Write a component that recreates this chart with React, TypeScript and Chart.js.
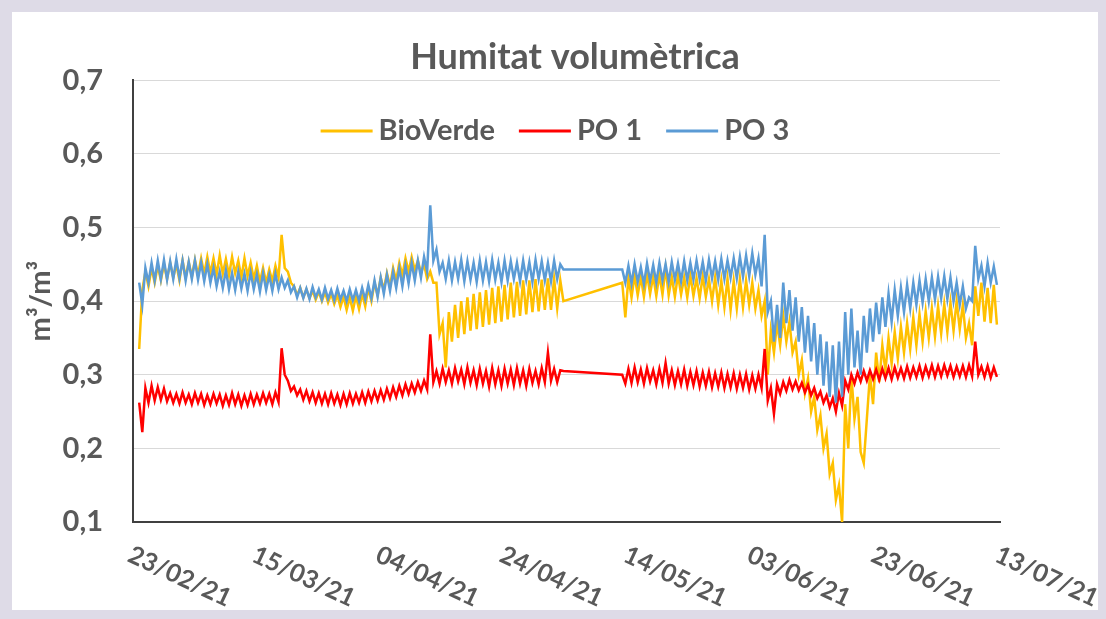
import React, { useEffect, useRef } from "react";
import { Chart, registerables } from "chart.js";

Chart.register(...registerables);

// ---------- data ----------
const chartTitle = "Humitat volumètrica";
const yAxisTitle = "m³/m³";
const seriesNames = ["BioVerde", "PO 1", "PO 3"];
const seriesColors = ["#FFC000", "#FF0000", "#5B9BD5"];

// x axis: days since 23/02/21
const xTickDays = [0, 20, 40, 60, 80, 100, 120, 140];
const xTickLabels = ["23/02/21", "15/03/21", "04/04/21", "24/04/21", "14/05/21", "03/06/21", "23/06/21", "13/07/21"];
const yTickValues = [0.1, 0.2, 0.3, 0.4, 0.5, 0.6, 0.7];
const yTickLabels = ["0,1", "0,2", "0,3", "0,4", "0,5", "0,6", "0,7"];

// readings: day 1 .. day 139, first and second half of each day (null = no data)
const firstDay = 1;

const bioVerdeA = [
  0.335, 0.44, 0.445, 0.448, 0.45, 0.452, 0.45, 0.455, 0.453, 0.456,
  0.458, 0.46, 0.458, 0.462, 0.457, 0.46, 0.455, 0.458, 0.452, 0.448,
  0.445, 0.443, 0.448, 0.49, 0.44, 0.42, 0.418, 0.416, 0.414, 0.413,
  0.412, 0.41, 0.408, 0.406, 0.405, 0.407, 0.41, 0.418, 0.425, 0.432,
  0.438, 0.445, 0.452, 0.458, 0.46, 0.455, 0.45, 0.44, 0.425, 0.37,
  0.385, 0.395, 0.4, 0.405, 0.41, 0.412, 0.415, 0.418, 0.42, 0.422,
  0.425, 0.426, 0.428, 0.428, 0.43, 0.429, 0.431, 0.43, 0.428, null,
  null, null, null, null, null, null, null, null, 0.425, 0.432,
  0.435, 0.433, 0.437, 0.434, 0.436, 0.445, 0.433, 0.436, 0.432, 0.435,
  0.431, 0.434, 0.43, 0.432, 0.428, 0.43, 0.427, 0.43, 0.428, 0.425,
  0.415, 0.4, 0.36, 0.37, 0.38, 0.372, 0.345, 0.32, 0.295, 0.27,
  0.245, 0.22, 0.18, 0.15, 0.26, 0.3, 0.27, 0.18, 0.3, 0.33,
  0.34, 0.35, 0.358, 0.365, 0.37, 0.378, 0.382, 0.386, 0.39, 0.393,
  0.396, 0.398, 0.4, 0.395, 0.37, 0.42, 0.425, 0.418, 0.422,
];
const bioVerdeB = [
  0.415, 0.42, 0.425, 0.428, 0.43, 0.432, 0.428, 0.432, 0.433, 0.435,
  0.437, 0.438, 0.436, 0.437, 0.435, 0.438, 0.432, 0.434, 0.43, 0.426,
  0.425, 0.427, 0.432, 0.445, 0.425, 0.408, 0.405, 0.404, 0.402, 0.4,
  0.398, 0.396, 0.392, 0.388, 0.387, 0.389, 0.393, 0.4, 0.408, 0.415,
  0.42, 0.428, 0.435, 0.44, 0.442, 0.438, 0.43, 0.425, 0.355, 0.31,
  0.345, 0.35, 0.355, 0.36, 0.362, 0.365, 0.368, 0.37, 0.372, 0.375,
  0.378, 0.38, 0.382, 0.385, 0.386, 0.388, 0.388, 0.39, 0.4, null,
  null, null, null, null, null, null, null, null, 0.378, 0.405,
  0.408, 0.406, 0.41, 0.407, 0.409, 0.408, 0.406, 0.409, 0.405, 0.407,
  0.404, 0.406, 0.4, 0.395, 0.392, 0.388, 0.39, 0.392, 0.395, 0.39,
  0.38, 0.3, 0.33, 0.34, 0.345, 0.33, 0.3, 0.275, 0.25, 0.225,
  0.2, 0.165, 0.13, 0.1, 0.2, 0.24, 0.195, 0.24, 0.26, 0.29,
  0.305, 0.315, 0.322, 0.33, 0.335, 0.34, 0.345, 0.35, 0.352, 0.356,
  0.358, 0.36, 0.362, 0.35, 0.34, 0.38, 0.372, 0.37, 0.368,
];

const po1A = [
  0.262, 0.282, 0.285, 0.283, 0.281, 0.275, 0.274, 0.276, 0.273, 0.275,
  0.274, 0.272, 0.274, 0.273, 0.272, 0.275, 0.273, 0.272, 0.274, 0.273,
  0.275, 0.274, 0.276, 0.336, 0.292, 0.284, 0.28, 0.278, 0.276, 0.275,
  0.274, 0.275, 0.273, 0.274, 0.275, 0.274, 0.276, 0.277, 0.278, 0.279,
  0.281, 0.283, 0.285, 0.287, 0.288, 0.29, 0.292, 0.355, 0.305, 0.308,
  0.306, 0.309, 0.307, 0.31, 0.306, 0.308, 0.305, 0.309, 0.306, 0.308,
  0.307, 0.309, 0.306, 0.308, 0.305, 0.309, 0.33, 0.308, 0.306, null,
  null, null, null, null, null, null, null, null, 0.3, 0.308,
  0.31, 0.307, 0.309, 0.306, 0.308, 0.316, 0.306, 0.305, 0.307, 0.304,
  0.305, 0.303, 0.304, 0.302, 0.303, 0.301, 0.302, 0.3, 0.301, 0.299,
  0.3, 0.335, 0.282, 0.287, 0.29, 0.293, 0.291, 0.289, 0.286, 0.282,
  0.277, 0.272, 0.268, 0.275, 0.292, 0.3, 0.303, 0.305, 0.306, 0.307,
  0.308, 0.309, 0.31, 0.309, 0.311, 0.31, 0.312, 0.311, 0.313, 0.312,
  0.313, 0.312, 0.311, 0.312, 0.313, 0.345, 0.311, 0.312, 0.31,
];
const po1B = [
  0.222, 0.262, 0.265, 0.266, 0.264, 0.262, 0.261, 0.262, 0.26, 0.262,
  0.259, 0.26, 0.261, 0.258, 0.259, 0.26, 0.258, 0.259, 0.26, 0.261,
  0.262, 0.26, 0.263, 0.3, 0.278, 0.272, 0.266, 0.264, 0.262, 0.261,
  0.26, 0.261, 0.259, 0.26, 0.261, 0.262, 0.262, 0.264, 0.265, 0.266,
  0.268, 0.27, 0.272, 0.274, 0.276, 0.278, 0.28, 0.29, 0.288, 0.29,
  0.288, 0.291, 0.287, 0.289, 0.286, 0.288, 0.284, 0.287, 0.285, 0.288,
  0.286, 0.288, 0.285, 0.289, 0.287, 0.29, 0.292, 0.29, 0.305, null,
  null, null, null, null, null, null, null, null, 0.288, 0.289,
  0.29, 0.288, 0.291, 0.287, 0.289, 0.288, 0.286, 0.287, 0.285, 0.286,
  0.284, 0.285, 0.283, 0.284, 0.282, 0.283, 0.281, 0.282, 0.28, 0.281,
  0.282, 0.265, 0.247, 0.274, 0.278, 0.28, 0.279, 0.276, 0.272, 0.268,
  0.262, 0.256, 0.25, 0.258, 0.28, 0.288, 0.291, 0.292, 0.294, 0.293,
  0.295, 0.294, 0.296, 0.295, 0.296, 0.297, 0.296, 0.298, 0.297, 0.298,
  0.299, 0.297, 0.298, 0.297, 0.298, 0.3, 0.297, 0.296, 0.297,
];

const po3A = [
  0.425, 0.445, 0.452, 0.455, 0.456, 0.454, 0.457, 0.455, 0.453, 0.455,
  0.452, 0.45, 0.445, 0.44, 0.442, 0.438, 0.44, 0.437, 0.439, 0.436,
  0.438, 0.435, 0.437, 0.432, 0.428, 0.42, 0.418, 0.417, 0.419, 0.416,
  0.418, 0.415, 0.417, 0.414, 0.416, 0.415, 0.418, 0.422, 0.428, 0.432,
  0.436, 0.44, 0.445, 0.448, 0.452, 0.455, 0.46, 0.53, 0.47, 0.452,
  0.455, 0.453, 0.456, 0.454, 0.452, 0.455, 0.453, 0.456, 0.452, 0.455,
  0.454, 0.452, 0.455, 0.453, 0.456, 0.454, 0.452, 0.455, 0.45, null,
  null, null, null, null, null, null, null, null, 0.443, 0.448,
  0.45, 0.446, 0.451, 0.449, 0.452, 0.45, 0.453, 0.451, 0.454, 0.452,
  0.455, 0.453, 0.456, 0.454, 0.457, 0.455, 0.458, 0.46, 0.462, 0.465,
  0.458, 0.49, 0.4, 0.395, 0.425, 0.415, 0.405, 0.392, 0.38, 0.37,
  0.355, 0.345, 0.34, 0.345, 0.385, 0.39, 0.36, 0.38, 0.39, 0.398,
  0.405, 0.41, 0.415, 0.418, 0.422, 0.425, 0.428, 0.43, 0.432, 0.433,
  0.434, 0.432, 0.425, 0.42, 0.405, 0.475, 0.448, 0.452, 0.447,
];
const po3B = [
  0.395, 0.425, 0.428, 0.43, 0.429, 0.43, 0.431, 0.428, 0.43, 0.429,
  0.427, 0.425, 0.42, 0.418, 0.416, 0.415, 0.417, 0.414, 0.416, 0.413,
  0.415, 0.414, 0.416, 0.418, 0.412, 0.405, 0.404, 0.403, 0.405, 0.402,
  0.403, 0.401, 0.402, 0.4, 0.401, 0.4, 0.402, 0.404, 0.406, 0.41,
  0.414, 0.418, 0.42, 0.424, 0.428, 0.432, 0.44, 0.455, 0.44, 0.43,
  0.428, 0.43, 0.427, 0.429, 0.426, 0.428, 0.427, 0.429, 0.426, 0.428,
  0.43, 0.427, 0.429, 0.426, 0.43, 0.428, 0.427, 0.43, 0.443, null,
  null, null, null, null, null, null, null, null, 0.425, 0.424,
  0.426, 0.423, 0.427, 0.425, 0.428, 0.426, 0.429, 0.427, 0.428, 0.429,
  0.43, 0.428, 0.431, 0.429, 0.43, 0.432, 0.431, 0.433, 0.434, 0.436,
  0.42, 0.385, 0.345, 0.35, 0.37, 0.36, 0.345, 0.33, 0.318, 0.3,
  0.285, 0.27, 0.262, 0.27, 0.3, 0.31, 0.3, 0.33, 0.345, 0.355,
  0.365, 0.372, 0.38, 0.385, 0.39, 0.395, 0.398, 0.4, 0.402, 0.404,
  0.403, 0.4, 0.395, 0.39, 0.4, 0.43, 0.42, 0.425, 0.422,
];

// ---------- helpers ----------
function buildPoints(a: (number | null)[], b: (number | null)[]) {
  const pts: { x: number; y: number }[] = [];
  for (let i = 0; i < a.length; i++) {
    const day = firstDay + i;
    if (a[i] != null) pts.push({ x: day, y: a[i] as number });
    if (b[i] != null) pts.push({ x: day + 0.5, y: b[i] as number });
  }
  return pts;
}

const TEXT_COLOR = "#595959";
const FONT = "Lato";

const xLabelPlugin = {
  id: "rotatedXLabels",
  afterDraw(chart: any) {
    const { ctx, chartArea, scales } = chart;
    const xs = scales.x;
    ctx.save();
    ctx.fillStyle = TEXT_COLOR;
    ctx.font = `bold 25px ${FONT}`;
    ctx.textAlign = "left";
    ctx.textBaseline = "top";
    xTickDays.forEach((d, i) => {
      const px = xs.getPixelForValue(d);
      ctx.save();
      ctx.translate(px + 2, chartArea.bottom + 20);
      ctx.rotate((25 * Math.PI) / 180);
      ctx.fillText(xTickLabels[i], 0, 0);
      ctx.restore();
    });
    ctx.restore();
  },
};

const insideLegendPlugin = {
  id: "insideLegend",
  afterDraw(chart: any) {
    const { ctx } = chart;
    const lineLen = 52;
    const gapLT = 6;
    const itemGap = 24;
    const centerX = 555;
    const centerY = 131;
    ctx.save();
    ctx.font = `bold 29px ${FONT}`;
    const widths = seriesNames.map((n) => ctx.measureText(n).width);
    const total = widths.reduce((s, w) => s + lineLen + gapLT + w, 0) + itemGap * (seriesNames.length - 1);
    let x = centerX - total / 2;
    ctx.textBaseline = "middle";
    ctx.textAlign = "left";
    seriesNames.forEach((n, i) => {
      ctx.strokeStyle = seriesColors[i];
      ctx.lineWidth = 3;
      ctx.beginPath();
      ctx.moveTo(x, centerY);
      ctx.lineTo(x + lineLen, centerY);
      ctx.stroke();
      x += lineLen + gapLT;
      ctx.fillStyle = TEXT_COLOR;
      ctx.fillText(n, x, centerY);
      x += widths[i] + itemGap;
    });
    ctx.restore();
  },
};

export default function App() {
  const canvasRef = useRef<HTMLCanvasElement | null>(null);

  useEffect(() => {
    if (!canvasRef.current) return;
    const seriesData = [
      buildPoints(bioVerdeA, bioVerdeB),
      buildPoints(po1A, po1B),
      buildPoints(po3A, po3B),
    ];
    const chart = new Chart(canvasRef.current, {
      type: "line",
      data: {
        datasets: seriesNames.map((name, i) => ({
          label: name,
          data: seriesData[i],
          borderColor: seriesColors[i],
          backgroundColor: seriesColors[i],
          borderWidth: 2.5,
          pointRadius: 0,
          tension: 0,
          fill: false,
          order: seriesNames.length - i,
        })),
      },
      options: {
        animation: false,
        responsive: false,
        devicePixelRatio: 1,
        layout: { padding: { left: 20, right: 0, top: 0, bottom: 0 } },
        plugins: {
          legend: { display: false },
          tooltip: { enabled: false },
          title: {
            display: true,
            text: chartTitle,
            color: TEXT_COLOR,
            font: { family: FONT, size: 36, weight: "bold" },
            padding: { top: 36, bottom: 1 },
          },
        },
        scales: {
          x: {
            type: "linear",
            min: xTickDays[0],
            max: xTickDays[xTickDays.length - 1],
            grid: { display: false, drawTicks: false },
            border: { display: true, color: "#404040", width: 2 },
            ticks: { display: false, stepSize: 20 },
            afterFit: (s: any) => {
              s.height = 97;
            },
          },
          y: {
            type: "linear",
            position: "left",
            min: yTickValues[0],
            max: yTickValues[yTickValues.length - 1],
            grid: { color: "#d9d9d9", lineWidth: 1, drawTicks: false },
            border: { display: true, color: "#404040", width: 2 },
            ticks: {
              stepSize: 0.1,
              padding: 30,
              color: TEXT_COLOR,
              font: { family: FONT, size: 29, weight: "bold" },
              callback: (v: any) => {
                const idx = yTickValues.findIndex((t) => Math.abs(t - Number(v)) < 1e-6);
                return idx >= 0 ? yTickLabels[idx] : "";
              },
            },
            title: {
              display: true,
              text: yAxisTitle,
              color: TEXT_COLOR,
              font: { family: FONT, size: 29, weight: "bold" },
              padding: { top: 3, bottom: 0 },
            },
            afterFit: (s: any) => {
              s.width = 113;
            },
          },
          yR: {
            type: "linear",
            position: "right",
            min: 0,
            max: 1,
            grid: { display: false, drawTicks: false },
            border: { display: false },
            ticks: { display: false },
            afterFit: (s: any) => {
              s.width = 130;
            },
          },
        },
      } as any,
      plugins: [xLabelPlugin, insideLegendPlugin],
    });
    return () => chart.destroy();
  }, []);

  return (
    <div
      style={{
        position: "fixed",
        left: 0,
        top: 0,
        width: 1106,
        height: 619,
        overflow: "hidden",
        background: "#dedbe7",
      }}
    >
      <div
        style={{
          position: "absolute",
          left: 12,
          top: 12,
          width: 1086,
          height: 598,
          background: "#ffffff",
        }}
      />
      <canvas
        ref={canvasRef}
        width={1130}
        height={619}
        style={{ position: "absolute", left: 0, top: 0, width: 1130, height: 619 }}
      />
    </div>
  );
}
